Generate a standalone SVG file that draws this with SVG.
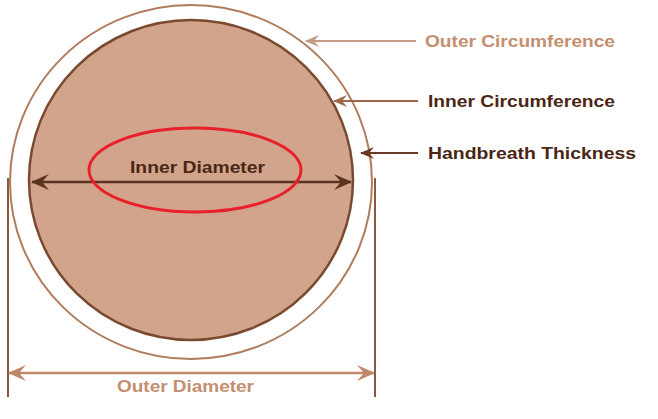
<svg xmlns="http://www.w3.org/2000/svg" width="658" height="419" viewBox="0 0 658 419">
<style>
.t{font-family:"Liberation Sans",Arial,sans-serif;font-weight:bold;font-size:17px}
.lt{fill:#c48e70}
.dk{fill:#4a2614}
</style>
<defs>
<marker id="al" markerWidth="18" markerHeight="16" refX="1" refY="8" orient="auto" markerUnits="userSpaceOnUse"><path d="M18,0 L0,8 L18,16 L11,8 Z" fill="context-stroke"/></marker>
<marker id="ar" markerWidth="18" markerHeight="16" refX="17" refY="8" orient="auto" markerUnits="userSpaceOnUse"><path d="M0,0 L18,8 L0,16 L7,8 Z" fill="context-stroke"/></marker>
<marker id="sl" markerWidth="14" markerHeight="12" refX="1" refY="6" orient="auto" markerUnits="userSpaceOnUse"><path d="M14,0 L0,6 L14,12 L9,6 Z" fill="context-stroke"/></marker>
</defs>
<rect width="658" height="419" fill="#fff"/>
<g id="outer"><ellipse cx="191" cy="182" rx="181" ry="177" fill="none" stroke="#b07c5e" stroke-width="2"/></g>
<g id="inner"><ellipse cx="191" cy="180" rx="162" ry="160" fill="#d2a48c" stroke="#7a4a30" stroke-width="2.5"/></g>
<g id="connectors" fill="none">
<line x1="32" y1="182" x2="351" y2="182" stroke="#5a3420" stroke-width="2.5" marker-start="url(#al)" marker-end="url(#ar)"/>
<line x1="8" y1="178" x2="8" y2="397" stroke="#8a5a40" stroke-width="2"/>
<line x1="375" y1="178" x2="375" y2="397" stroke="#8a5a40" stroke-width="2"/>
<line x1="9" y1="373" x2="374" y2="373" stroke="#c0876a" stroke-width="2.5" marker-start="url(#al)" marker-end="url(#ar)"/>
<line x1="306" y1="41" x2="416" y2="41" stroke="#c49a80" stroke-width="2" marker-start="url(#sl)"/>
<line x1="334" y1="101" x2="418" y2="101" stroke="#a0664a" stroke-width="2" marker-start="url(#sl)"/>
<line x1="361" y1="153" x2="418" y2="153" stroke="#6a3a22" stroke-width="2" marker-start="url(#sl)"/>
</g>
<g id="lbl-outer-circ"><text class="t lt" x="425" y="47" textLength="190" lengthAdjust="spacingAndGlyphs">Outer Circumference</text></g>
<g id="lbl-inner-circ"><text class="t dk" x="428" y="107" textLength="187" lengthAdjust="spacingAndGlyphs">Inner Circumference</text></g>
<g id="lbl-thick"><text class="t dk" x="428" y="159" textLength="208" lengthAdjust="spacingAndGlyphs">Handbreath Thickness</text></g>
<g id="lbl-inner-dia"><text class="t dk" x="130" y="173" textLength="135" lengthAdjust="spacingAndGlyphs">Inner Diameter</text></g>
<g id="lbl-outer-dia"><text class="t lt" x="117" y="392" textLength="137" lengthAdjust="spacingAndGlyphs">Outer Diameter</text></g>
<g id="highlight"><ellipse cx="195" cy="170" rx="106" ry="42" fill="none" stroke="#e8202a" stroke-width="3"/></g>
</svg>
